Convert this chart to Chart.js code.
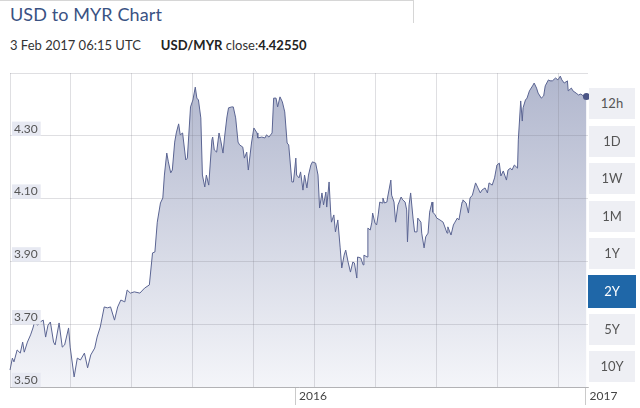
<!DOCTYPE html>
<html>
<head>
<meta charset="utf-8">
<script src="https://cdn.jsdelivr.net/npm/chart.js@4.4.1/dist/chart.umd.min.js"></script>
<style>
  body { margin: 0; background: #fff; font-family: Lato, 'Open Sans', sans-serif; }
  #wrap { position: relative; width: 640px; height: 408px; overflow: hidden; }
  #tab { position: absolute; left: 0; top: 0; width: 413px; height: 22px; border-top: 1px solid #d6d6d6; border-right: 1px solid #d6d6d6; }
  #title { position: absolute; left: 10px; top: 3px; font-size: 18px; color: #3a5283; white-space: nowrap; letter-spacing: 0.1px; }
  #sub { position: absolute; left: 10px; top: 37px; font-size: 13px; color: #333; white-space: nowrap; }
  #sub b { color: #222; }
  canvas { position: absolute; left: 0; top: 0; }
  .btn { position: absolute; left: 589px; width: 46px; height: 31px; line-height: 31px; text-align: center;
         background: #eeeff4; color: #555; font-size: 13px; }
  .btn.on { background: #1f67a8; color: #fff; left: 588px; width: 48px; height: 33px; line-height: 33px; }
</style>
</head>
<body>
<div id="wrap">
  <div id="tab"></div>
  <div id="title">USD to MYR Chart</div>
  <div id="sub">3 Feb 2017 06:15 UTC<span style="display:inline-block;width:20px"></span><b>USD/MYR</b> close:<b>4.42550</b></div>
  <canvas id="chart" width="640" height="408"></canvas>
</div>
<script>
// days since the start of the 2 year window, and the USD/MYR rate
const days = [0,3,5,9,13,16,18,22,26,29,31,35,38,42,45,48,51,55,57,62,
  66,69,74,76,81,85,89,94,98,102,107,110,114,119,123,127,132,136,140,145,
  148,152,157,164,170,176,180,183,186,190,193,195,198,200,203,205,208,210,213,215,
  218,222,224,228,231,234,236,238,241,243,246,248,251,255,256,258,261,264,266,269,
  271,274,276,280,282,285,288,290,294,296,299,301,305,308,312,313,318,322,324,327,
  331,333,336,338,341,344,347,350,352,356,358,361,362,365,367,370,372,375,377,380,
  382,386,389,391,394,396,399,400,403,405,406,409,411,414,417,419,422,424,427,430,
  433,435,438,439,443,446,447,451,452,455,457,458,461,463,465,467,470,471,473,476,
  477,481,482,485,487,490,491,494,496,499,501,502,504,506,509,511,514,515,519,520,
  523,525,528,530,533,534,537,539,543,547,552,553,557,560,562,565,567,571,572,576,
  579,581,584,588,591,594,596,600,603,605,609,612,615,618,620,623,627,629,632,634,
  637,641,642,645,647,648,651,653,656,660,662,665,667,671,674,676,680,682,685,689,
  692,695,697,700,704,705,709,711,715,718,721,724,728];

const rates = [3.554,3.592,3.580,3.618,3.608,3.643,3.611,3.643,3.666,3.688,
  3.707,3.697,3.707,3.713,3.659,3.697,3.707,3.643,3.634,3.704,
  3.627,3.634,3.688,3.627,3.532,3.592,3.586,3.608,3.561,3.602,
  3.624,3.659,3.691,3.755,3.752,3.755,3.713,3.755,3.777,3.771,
  3.809,3.799,3.803,3.799,3.815,3.825,3.927,3.930,4.025,4.086,
  4.102,4.175,4.245,4.217,4.182,4.191,4.280,4.309,4.338,4.303,
  4.309,4.223,4.229,4.392,4.414,4.455,4.420,4.414,4.357,4.175,
  4.137,4.175,4.143,4.287,4.296,4.255,4.248,4.309,4.287,4.245,
  4.296,4.360,4.389,4.392,4.392,4.357,4.280,4.271,4.264,4.229,
  4.248,4.191,4.277,4.325,4.309,4.293,4.296,4.293,4.303,4.296,
  4.309,4.420,4.420,4.392,4.424,4.408,4.376,4.277,4.271,4.153,
  4.153,4.229,4.175,4.166,4.185,4.127,4.175,4.134,4.175,4.207,
  4.217,4.213,4.175,4.070,4.118,4.080,4.121,4.073,4.153,4.057,
  4.025,4.048,3.994,4.032,3.943,3.879,3.920,3.936,3.898,3.866,
  3.898,3.895,3.847,3.914,3.911,3.889,3.920,3.914,4.006,4.000,
  4.025,4.054,4.022,4.016,4.048,4.089,4.086,4.102,4.086,4.089,
  4.105,4.159,4.111,4.089,4.025,4.080,4.086,4.105,4.096,4.089,
  4.064,3.962,4.080,4.118,4.038,3.994,3.994,4.038,4.025,3.990,
  3.943,3.978,3.990,4.057,4.089,4.057,4.048,4.038,4.032,4.025,
  3.990,4.010,3.984,4.016,4.025,4.038,4.032,4.089,4.096,4.086,
  4.054,4.102,4.111,4.150,4.134,4.118,4.127,4.134,4.118,4.150,
  4.143,4.166,4.207,4.213,4.172,4.188,4.159,4.191,4.197,4.191,
  4.207,4.197,4.287,4.411,4.347,4.389,4.414,4.420,4.443,4.459,
  4.468,4.452,4.436,4.420,4.427,4.459,4.478,4.475,4.475,4.484,
  4.478,4.490,4.478,4.468,4.475,4.443,4.452,4.443,4.436,4.430,
  4.433,4.427,4.4255];

const yearTicks = [360, 727];
const yearLabels = ['2016', '2017'];
const periods = ['12h', '1D', '1W', '1M', '1Y', '2Y', '5Y', '10Y'];
const activePeriod = '2Y';

// period buttons on the right
const wrap = document.getElementById('wrap');
periods.forEach((p, i) => {
    const d = document.createElement('div');
    d.className = 'btn' + (p === activePeriod ? ' on' : '');
    d.style.top = (p === activePeriod ? 87 + i * 37.6 : 88 + i * 37.6) + 'px';
    d.textContent = p;
    wrap.appendChild(d);
});

const tickFont = { family: 'Lato', size: 12 };
const gridCol = 'rgba(120,120,135,0.24)';

new Chart(document.getElementById('chart'), {
    type: 'line',
    data: {
        datasets: [{
            data: days.map((d, i) => ({ x: d, y: rates[i] })),
            borderColor: '#5a6492',
            borderWidth: 1,
            fill: 'start',
            backgroundColor: (ctx) => {
                const area = ctx.chart.chartArea;
                if (!area) return 'rgba(180,186,210,0.8)';
                const g = ctx.chart.ctx.createLinearGradient(0, area.top, 0, area.bottom);
                g.addColorStop(0, '#b0b6cd');
                g.addColorStop(1, '#f4f5f9');
                return g;
            },
            pointRadius: (ctx) => ctx.dataIndex === rates.length - 1 ? 3.5 : 0,
            pointBackgroundColor: '#4b5586',
            pointBorderWidth: 0,
            tension: 0,
            clip: false
        }]
    },
    options: {
        responsive: false,
        animation: false,
        layout: { padding: { left: 10, right: 52, top: 73, bottom: 0 } },
        plugins: { legend: { display: false }, tooltip: { enabled: false } },
        scales: {
            x: {
                type: 'linear', position: 'bottom', min: 0, max: 730,
                afterBuildTicks: (ax) => { ax.ticks = yearTicks.map(v => ({ value: v })); },
                afterFit: (s) => { s.height = 21; },
                grid: { drawOnChartArea: false, tickLength: 18, color: '#cacaca' },
                border: { display: true, color: '#c4c4c4', z: 1 },
                ticks: {
                    align: 'start', labelOffset: 4, padding: -16, maxRotation: 0, autoSkip: false,
                    color: '#444', font: tickFont,
                    callback: (v) => { const k = yearTicks.indexOf(v); return k < 0 ? '' : yearLabels[k]; }
                }
            },
            xg: {
                type: 'linear', position: 'bottom', min: 0, max: 730,
                afterBuildTicks: (ax) => {
                    const t = [];
                    for (let v = 0; v < 730; v += 77) t.push({ value: v });
                    ax.ticks = t;
                },
                afterFit: (s) => { s.height = 0; },
                grid: { color: gridCol, drawTicks: false, z: 1 },
                border: { display: false },
                ticks: { display: false }
            },
            y: {
                min: 3.5, max: 4.5,
                afterFit: (s) => { s.width = 0; },
                grid: { color: gridCol, drawTicks: false, z: 1 },
                border: { display: false },
                ticks: {
                    z: 2, stepSize: 0.2, mirror: true, padding: 4, labelOffset: -7,
                    color: '#555', font: tickFont,
                    showLabelBackdrop: true,
                    backdropColor: (ctx) => ctx.tick && ctx.tick.value > 4.49 ? 'rgba(0,0,0,0)' : '#e7e9f2',
                    backdropPadding: { top: 0, bottom: 0, left: 2, right: 3 },
                    callback: (v) => v > 4.49 ? '' : v.toFixed(2)
                }
            }
        }
    }
});
</script>
</body>
</html>
